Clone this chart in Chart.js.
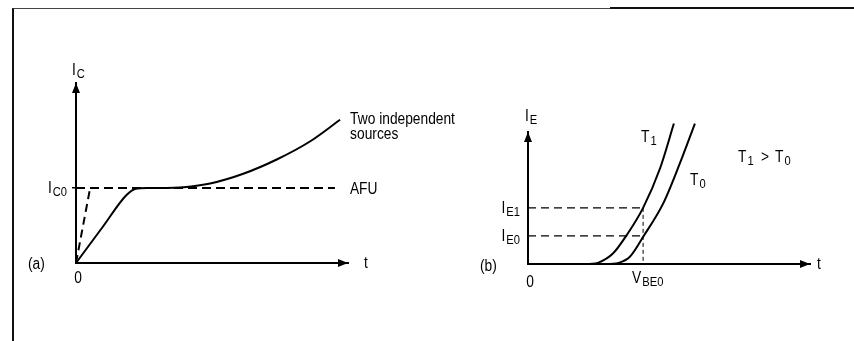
<!DOCTYPE html>
<html>
<head>
<meta charset="utf-8">
<script src="https://cdn.jsdelivr.net/npm/chart.js@4/dist/chart.umd.min.js"></script>
<style>
    html, body { margin: 0; padding: 0; background: #fff; }
    #stage { position: relative; width: 854px; height: 341px; overflow: hidden; }
    #stage canvas { position: absolute; left: 0; top: 0; }
    .frame { position: absolute; left: 12px; top: 8px; width: 842px; height: 333px;
             border-left: 2px solid #111; border-top: 1px solid #444; }
    .frame-top { position: absolute; left: 610px; top: 7px; width: 244px; height: 2px; background: #111; }
</style>
</head>
<body>
<div id="stage">
    <div class="frame"></div>
    <div class="frame-top"></div>
    <canvas id="chartA" width="854" height="341"></canvas>
    <canvas id="chartB" width="854" height="341"></canvas>
</div>
<script>
// ============================================
// DATA
// ============================================

// (a) collector current vs time
const aTwoSourcesT = [0, 1.0, 1.84, 2.2, 2.6, 3.3, 3.95, 4.93, 6.15, 7.38, 8.6, 9.71];
const aTwoSourcesI = [0, 0.49, 0.9, 0.99, 1.0, 1.0, 1.01, 1.06, 1.19, 1.38, 1.62, 1.91];
const aRampT = [0, 0.52];
const aRampI = [0, 1.0];
const aAfuT = [0, 9.52];
const aAfuI = [1.0, 1.0];
const aIc0 = 1.0;

// (b) emitter current vs base-emitter voltage
const bT1V = [2.1, 2.45, 2.96, 3.43, 4.0, 4.59, 5.07];
const bT1I = [0, 0.05, 0.38, 1.03, 2.0, 3.41, 5.0];
const bT0V = [2.85, 3.15, 3.54, 4.02, 4.7, 5.28, 5.8];
const bT0I = [0, 0.04, 0.26, 1.0, 2.16, 3.59, 5.0];
const bVbe0 = 4.0;
const bIe1 = 2.0;
const bIe0 = 1.0;

// ============================================
// HELPERS
// ============================================

const FONT = '"Liberation Sans", Arial, sans-serif';
const SQUEEZE = 0.86; // the figure uses a narrow face
const INK = '#000';

function toPoints(xs, ys) {
    return xs.map((x, i) => ({ x: x, y: ys[i] }));
}

/**
 * Text with an optional subscript, baseline at y.
 * align: 'left' (default), 'right' or 'center' for the whole label.
 */
function drawLabel(ctx, x, y, main, sub, align) {
    ctx.save();
    ctx.fillStyle = INK;
    ctx.textBaseline = 'alphabetic';
    ctx.textAlign = 'left';
    ctx.font = '16px ' + FONT;
    const mw = ctx.measureText(main).width * SQUEEZE;
    ctx.font = '13px ' + FONT;
    const sw = sub ? ctx.measureText(sub).width * SQUEEZE + 1 : 0;
    let left = x;
    if (align === 'right') left = x - mw - sw;
    if (align === 'center') left = x - (mw + sw) / 2;

    ctx.translate(left, y);
    ctx.scale(SQUEEZE, 1);
    ctx.font = '16px ' + FONT;
    ctx.fillText(main, 0, 0);
    if (sub) {
        ctx.font = '13px ' + FONT;
        ctx.fillText(sub, (mw + 1) / SQUEEZE, 3);
    }
    ctx.restore();
}

// axis arrows at the ends of both axes
const arrowPlugin = {
    id: 'axisArrows',
    afterDraw(chart) {
        const { ctx, chartArea: a } = chart;
        ctx.save();
        ctx.fillStyle = INK;
        ctx.beginPath();
        ctx.moveTo(a.left, a.top);
        ctx.lineTo(a.left - 4, a.top + 10);
        ctx.lineTo(a.left + 4, a.top + 10);
        ctx.closePath();
        ctx.fill();
        ctx.beginPath();
        ctx.moveTo(a.right, a.bottom);
        ctx.lineTo(a.right - 10, a.bottom - 4);
        ctx.lineTo(a.right - 10, a.bottom + 4);
        ctx.closePath();
        ctx.fill();
        ctx.restore();
    }
};

function lineSet(points, opts) {
    return Object.assign({
        data: points,
        borderColor: INK,
        borderWidth: 2,
        pointRadius: 0,
        fill: false,
        clip: false,
        tension: 0
    }, opts);
}

function baseOptions(padding, xMax, yMax, yTicks) {
    return {
        responsive: false,
        animation: false,
        events: [],
        layout: { padding: padding, autoPadding: false },
        plugins: { legend: { display: false }, tooltip: { enabled: false } },
        scales: {
            x: {
                type: 'linear', min: 0, max: xMax,
                ticks: { display: false },
                grid: { display: false, drawTicks: false },
                border: { display: true, color: INK, width: 2 }
            },
            y: {
                type: 'linear', min: 0, max: yMax,
                afterBuildTicks: s => { s.ticks = yTicks.map(v => ({ value: v })); },
                ticks: { display: false },
                grid: {
                    display: yTicks.length > 0, drawOnChartArea: false,
                    drawTicks: yTicks.length > 0, tickLength: 4,
                    color: INK, lineWidth: 1.5
                },
                border: { display: true, color: INK, width: 2 }
            }
        }
    };
}

// ============================================
// CHART (a)
// ============================================

const labelsA = {
    id: 'labelsA',
    afterDraw(chart) {
        const ctx = chart.ctx;
        const xs = chart.scales.x, ys = chart.scales.y;
        const x0 = xs.getPixelForValue(0);
        const y0 = ys.getPixelForValue(0);
        const yc = ys.getPixelForValue(aIc0);
        const lastT = aTwoSourcesT[aTwoSourcesT.length - 1];
        drawLabel(ctx, x0 - 4, chart.chartArea.top - 8, 'I', 'C');
        drawLabel(ctx, x0 - 9, yc + 5, 'I', 'C0', 'right');
        drawLabel(ctx, xs.getPixelForValue(aAfuT[1]) + 15, yc + 6, 'AFU');
        drawLabel(ctx, xs.getPixelForValue(lastT) + 10, 124, 'Two independent');
        drawLabel(ctx, xs.getPixelForValue(lastT) + 10, 139, 'sources');
        drawLabel(ctx, 28, y0 + 6, '(a)');
        drawLabel(ctx, x0 + 2, y0 + 20, '0', null, 'center');
        drawLabel(ctx, chart.chartArea.right + 16, y0 + 5, 't');
    }
};

new Chart(document.getElementById('chartA'), {
    type: 'line',
    data: {
        datasets: [
            lineSet(toPoints(aAfuT, aAfuI), { borderDash: [9, 5] }),
            lineSet(toPoints(aRampT, aRampI), { borderDash: [8, 5] }),
            lineSet(toPoints(aTwoSourcesT, aTwoSourcesI), { cubicInterpolationMode: 'monotone' })
        ]
    },
    options: baseOptions({ left: 72, right: 506, top: 83, bottom: 78 }, 10, 2.4, [aIc0]),
    plugins: [arrowPlugin, labelsA]
});

// ============================================
// CHART (b)
// ============================================

const labelsB = {
    id: 'labelsB',
    afterDraw(chart) {
        const ctx = chart.ctx;
        const xs = chart.scales.x, ys = chart.scales.y;
        const x0 = xs.getPixelForValue(0);
        const y0 = ys.getPixelForValue(0);
        const xv = xs.getPixelForValue(bVbe0);
        drawLabel(ctx, x0 - 3, chart.chartArea.top - 11, 'I', 'E');
        drawLabel(ctx, x0 - 8, ys.getPixelForValue(bIe1) + 5, 'I', 'E1', 'right');
        drawLabel(ctx, x0 - 8, ys.getPixelForValue(bIe0) + 5, 'I', 'E0', 'right');
        drawLabel(ctx, 480, y0 + 7, '(b)');
        drawLabel(ctx, x0 + 2, y0 + 23, '0', null, 'center');
        drawLabel(ctx, xv - 11, y0 + 19, 'V', 'BE0');
        drawLabel(ctx, xv - 2, 142, 'T', '1');
        drawLabel(ctx, xv + 47, 185, 'T', '0');
        drawLabel(ctx, 738, 162, 'T', '1');
        drawLabel(ctx, 761, 162, '>');
        drawLabel(ctx, 775, 162, 'T', '0');
        drawLabel(ctx, chart.chartArea.right + 7, y0 + 5, 't');
    }
};

new Chart(document.getElementById('chartB'), {
    type: 'line',
    data: {
        datasets: [
            lineSet(toPoints([0, bVbe0], [bIe1, bIe1]), { borderWidth: 1.2, borderDash: [8, 5] }),
            lineSet(toPoints([0, bVbe0], [bIe0, bIe0]), { borderWidth: 1.2, borderDash: [8, 5] }),
            lineSet(toPoints([bVbe0, bVbe0], [bIe1, 0]), { borderWidth: 1, borderDash: [4, 3] }),
            lineSet(toPoints(bT1V, bT1I), { cubicInterpolationMode: 'monotone' }),
            lineSet(toPoints(bT0V, bT0I), { cubicInterpolationMode: 'monotone' })
        ]
    },
    options: baseOptions({ left: 528, right: 44, top: 132, bottom: 77 }, 9.8, 4.7, []),
    plugins: [arrowPlugin, labelsB]
});
</script>
</body>
</html>
